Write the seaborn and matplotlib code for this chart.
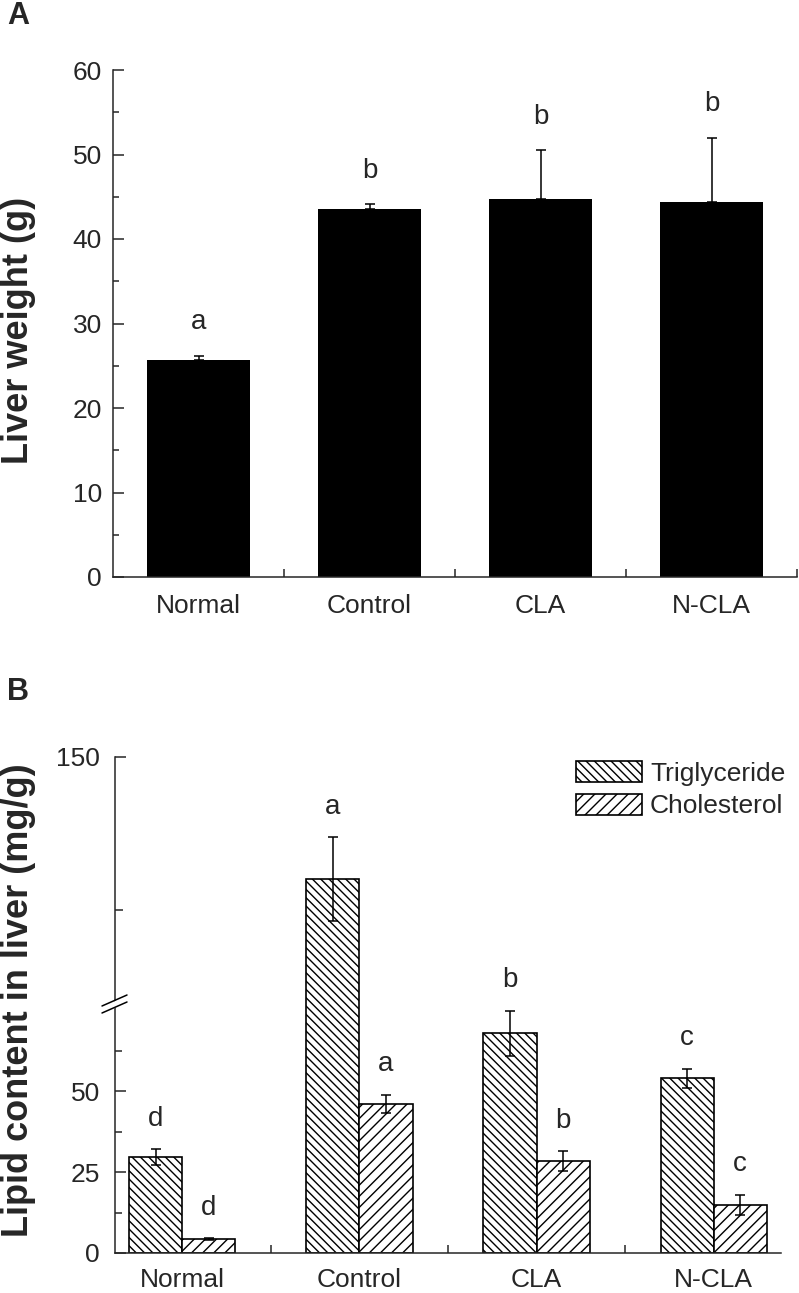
import numpy as np
import pandas as pd
import matplotlib
matplotlib.use("Agg")
import matplotlib.pyplot as plt
from matplotlib.patches import Patch, Polygon
from matplotlib.lines import Line2D
import seaborn as sns

# data
groups = ["Normal", "Control", "CLA", "N-CLA"]

liver_weight = [25.7, 43.5, 44.7, 44.4]
liver_err = [0.5, 0.6, 5.8, 7.6]
liver_letters = ["a", "b", "b", "b"]

lipids = ["Triglyceride", "Cholesterol"]
tg_mean = [29.6, 110.0, 67.9, 54.0]
tg_err = [2.4, 13.7, 7.0, 3.0]
tg_letters = ["d", "a", "b", "c"]
chol_mean = [4.3, 46.0, 28.4, 14.8]
chol_err = [0.3, 2.8, 3.0, 3.2]
chol_letters = ["d", "a", "b", "c"]

W, H = 799, 1293
def fx(px):
    return px / W
def fy(py):
    return 1 - py / H

sns.set_style("ticks")
plt.rcParams["font.family"] = ["Liberation Sans", "DejaVu Sans"]
plt.rcParams["hatch.linewidth"] = 1.0
plt.rcParams["axes.linewidth"] = 1.1

fig = plt.figure(figsize=(W / 100, H / 100), dpi=100)

# ---------------- Panel A ----------------
axA = fig.add_axes([fx(113), fy(577), fx(797) - fx(113), fy(70) - fy(577)])
dfA = pd.DataFrame({"group": groups, "weight": liver_weight})
sns.barplot(data=dfA, x="group", y="weight", color="black", saturation=1,
            width=0.6, errorbar=None, linewidth=0, ax=axA)
xa = [p.get_x() + p.get_width() / 2 for p in axA.patches]
axA.errorbar(xa, liver_weight, yerr=[np.zeros(len(liver_err)), liver_err],
             fmt="none", ecolor="black", elinewidth=1.1, capsize=3.6, capthick=1.1)
for x, m, e, t in zip(xa, liver_weight, liver_err, liver_letters):
    axA.annotate(t, (x, m + e), xytext=(0, 24), textcoords="offset points",
                 ha="center", va="center", fontsize=20)
axA.set_xlim(-0.5, 3.5)
axA.set_ylim(0, 60)
axA.set_yticks(range(0, 61, 10))
axA.set_yticks(range(5, 60, 10), minor=True)
axA.set_xticks([0.5, 1.5, 2.5, 3.5], minor=True)
axA.tick_params(which="both", direction="in", width=1.1)
axA.tick_params(axis="y", which="major", length=8, labelsize=19, pad=8)
axA.tick_params(axis="y", which="minor", length=4.5)
axA.tick_params(axis="x", which="major", length=0, labelsize=19, pad=12)
axA.tick_params(axis="x", which="minor", length=6)
axA.set_xlabel("")
axA.set_ylabel("")
sns.despine(ax=axA)

fig.text(fx(7), fy(16), "A", fontsize=22, fontweight="bold", va="center")
fig.text(fx(19), fy(330), "Liver weight (g)", rotation=90, ha="center",
         va="center", fontsize=26, fontweight="bold")

# ---------------- Panel B (broken axis) ----------------
axT = fig.add_axes([fx(115), fy(1007), fx(781) - fx(115), fy(757) - fy(1007)])
axL = fig.add_axes([fx(115), fy(1253), fx(781) - fx(115), fy(1007) - fy(1253)])
LOW_TOP = 76

dfB = pd.DataFrame({
    "group": groups * 2,
    "lipid": [lipids[0]] * 4 + [lipids[1]] * 4,
    "value": tg_mean + chol_mean,
})
hatches = ["\\\\\\\\", "///"]
means = [tg_mean, chol_mean]
errs = [tg_err, chol_err]
letters = [tg_letters, chol_letters]

for ax in (axT, axL):
    sns.barplot(data=dfB, x="group", y="value", hue="lipid", hue_order=lipids,
                palette=["white", "white"], saturation=1, width=0.6,
                errorbar=None, edgecolor="black", linewidth=1.2,
                legend=False, ax=ax)
    for cont, h in zip(ax.containers, hatches):
        for bar in cont:
            bar.set_hatch(h)
    ax.set_xlim(-0.38, 3.38)
    ax.set_xlabel("")
    ax.set_ylabel("")
    ax.tick_params(which="both", direction="in", width=1.1)

axL.set_ylim(0, LOW_TOP)
axT.set_ylim(68.3, 150)

# error bars and letters go on the axis whose range holds the bar's top
for ci, (m, e, lt) in enumerate(zip(means, errs, letters)):
    for j in range(len(groups)):
        top = m[j] + e[j]
        ax = axT if top > LOW_TOP else axL
        b = ax.containers[ci][j]
        x = b.get_x() + b.get_width() / 2
        ax.errorbar([x], [m[j]], yerr=[e[j]], fmt="none", ecolor="black",
                    elinewidth=1.1, capsize=3.6, capthick=1.1)
        ax.annotate(lt[j], (x, top), xytext=(0, 22), textcoords="offset points",
                    ha="center", va="center", fontsize=20, annotation_clip=False)

axL.set_yticks([0, 25, 50])
axL.set_yticks([12.5, 37.5, 62.5], minor=True)
axL.set_xticks([0.5, 1.5, 2.5], minor=True)
axL.tick_params(axis="y", which="major", length=8, labelsize=19, pad=11)
axL.tick_params(axis="y", which="minor", length=5)
axL.tick_params(axis="x", which="major", length=0, labelsize=19, pad=11)
axL.tick_params(axis="x", which="minor", length=5.5)
sns.despine(ax=axL)

axT.set_yticks([150])
axT.set_yticks([100], minor=True)
axT.tick_params(axis="y", which="major", length=8, labelsize=19, pad=11)
axT.tick_params(axis="y", which="minor", length=5.5)
axT.tick_params(axis="x", which="both", bottom=False, labelbottom=False)
sns.despine(ax=axT, bottom=True)

# break marks on the y axis
fig.add_artist(Polygon([(fx(106), fy(1012)), (fx(124), fy(1004)),
                        (fx(124), fy(997)), (fx(106), fy(1005))],
                       closed=True, facecolor="white", edgecolor="none",
                       transform=fig.transFigure))
for dy in (0, 7):
    fig.add_artist(Line2D([fx(102), fx(127)], [fy(1006 + dy), fy(995 + dy)],
                          color="black", lw=1.1, transform=fig.transFigure))

handles = [Patch(facecolor="white", edgecolor="black", hatch=h, linewidth=1.2)
           for h in hatches]
axT.legend(handles, lipids, loc="upper left", bbox_to_anchor=(fx(576), fy(761)),
           bbox_transform=fig.transFigure, frameon=False, fontsize=19,
           handlelength=2.5, handleheight=0.85, handletextpad=0.3,
           labelspacing=0.3, borderpad=0, borderaxespad=0)

fig.text(fx(7), fy(692), "B", fontsize=22, fontweight="bold", va="center")
fig.text(fx(19), fy(1000), "Lipid content in liver (mg/g)", rotation=90,
         ha="center", va="center", fontsize=26, fontweight="bold")

fig.savefig("out.png", dpi=100)
